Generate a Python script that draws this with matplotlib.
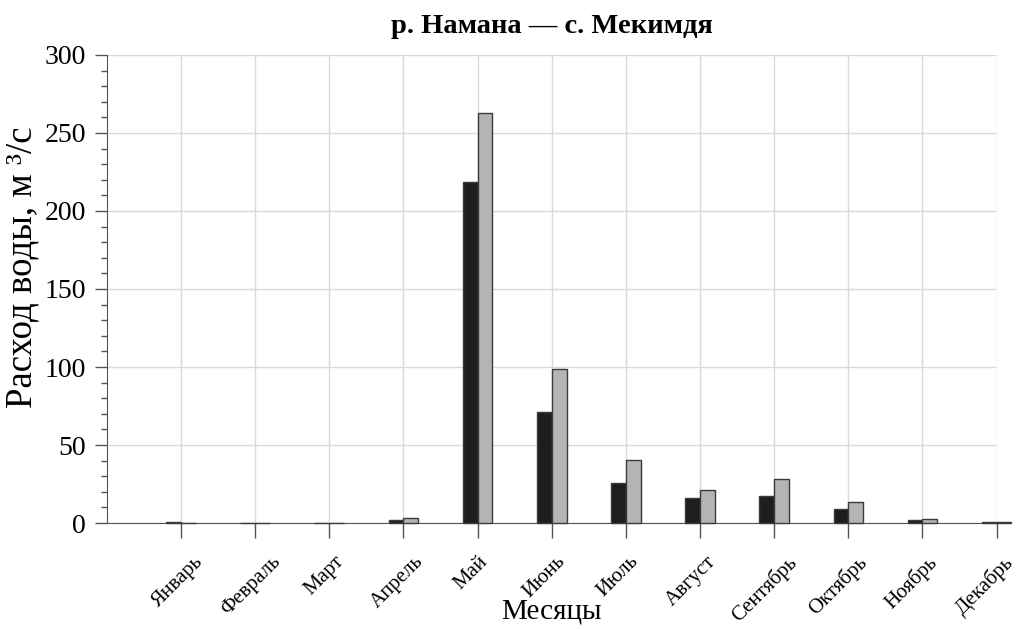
import numpy as np
import matplotlib.pyplot as plt
import matplotlib.transforms as mtransforms

plt.rcParams['font.family'] = ['Liberation Serif', 'DejaVu Serif']

months = ['Январь', 'Февраль', 'Март', 'Апрель', 'Май', 'Июнь',
          'Июль', 'Август', 'Сентябрь', 'Октябрь', 'Ноябрь', 'Декабрь']
# два ряда расходов, м3/с
flow_dark = [0.4, 0.3, 0.3, 2.0, 218.5, 71.0, 25.8, 16.2, 17.5, 9.3, 2.0, 0.8]
flow_light = [0.3, 0.2, 0.2, 3.0, 262.5, 98.5, 40.5, 21.2, 28.3, 13.5, 2.6, 0.9]

x = np.arange(1, 13)
w = 0.2

fig = plt.figure(figsize=(10.18, 6.29), dpi=100)
ax = fig.add_axes([0.105, 0.1685, 0.874, 0.7441])

ax.bar(x - w / 2, flow_dark, width=w, color='#1e1e1e', edgecolor='#3a3a3a',
       linewidth=1, zorder=3, clip_on=False)
ax.bar(x + w / 2, flow_light, width=w, color='#b4b4b4', edgecolor='#3a3a3a',
       linewidth=1, zorder=3, clip_on=False)

ax.set_xlim(0, 12)
ax.set_ylim(0, 300)
ax.set_yticks(np.arange(0, 301, 50))
ax.set_yticks(np.arange(0, 301, 10), minor=True)
ax.set_xticks(x)
ax.set_xticklabels([])

# подписи месяцев под засечками, повернутые на 45° (чуть сжаты к левому краю)
for i, (xi, m) in enumerate(zip(x, months)):
    dx = -(2.5 + 0.55 * i)
    off = mtransforms.ScaledTranslation(dx / 72, -21 / 72, fig.dpi_scale_trans)
    ax.text(xi, 0, m, transform=ax.get_xaxis_transform() + off,
            rotation=45, ha='center', va='top',
            fontsize=15, clip_on=False)

ax.grid(True, color='#d9d9d9', linewidth=1, zorder=0)
for s in ['top', 'right']:
    ax.spines[s].set_visible(False)
for s in ['left', 'bottom']:
    ax.spines[s].set_color('#555555')

ax.tick_params(axis='y', direction='out', length=9, width=1, color='#555555',
               labelsize=20, pad=6)
ax.tick_params(axis='y', which='minor', direction='out', length=4.5, width=1,
               color='#555555')
ax.tick_params(axis='x', direction='out', length=11, width=1, color='#555555', pad=2)

ax.set_ylabel('Расход воды, м ³/с', fontsize=26.5)
ax.yaxis.set_label_coords(-0.076, 0.547)
ax.set_xlabel('Месяцы', fontsize=21, labelpad=41)
ax.set_title('р. Намана — с. Мекимдя', fontsize=20.5, fontweight='bold', pad=16)

fig.savefig('out.png', dpi=100)
